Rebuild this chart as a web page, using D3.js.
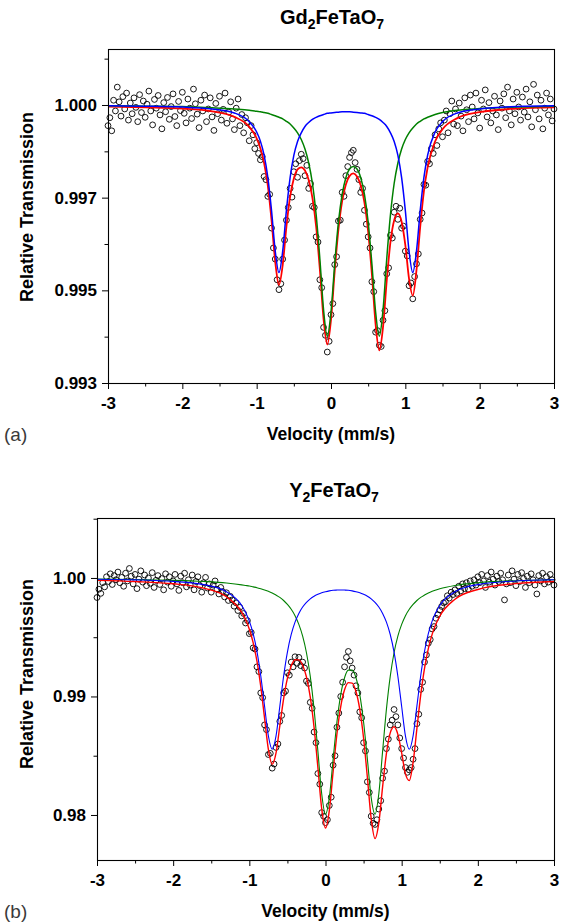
<!DOCTYPE html>
<html>
<head>
<meta charset="utf-8">
<script src="https://cdn.jsdelivr.net/npm/d3@7"></script>
<style>
  body { margin: 0; background: #fff; }
  svg { display: block; }
</style>
</head>
<body>
<svg id="chart" width="567" height="924"></svg>
<script>
// Mossbauer spectra of Gd2FeTaO7 (a) and Y2FeTaO7 (b)

const FONT = '"Liberation Sans", Arial, Helvetica, sans-serif';

// velocity of every channel (mm/s), shared by both spectra
const velocity = [
  -3, -2.975, -2.95, -2.925, -2.9, -2.875, -2.85, -2.825, -2.8, -2.775,
  -2.75, -2.725, -2.7, -2.675, -2.65, -2.625, -2.6, -2.575, -2.55, -2.525,
  -2.5, -2.475, -2.45, -2.425, -2.4, -2.375, -2.35, -2.325, -2.3, -2.275,
  -2.25, -2.225, -2.2, -2.175, -2.15, -2.125, -2.1, -2.075, -2.05, -2.025,
  -2, -1.975, -1.95, -1.925, -1.9, -1.875, -1.85, -1.825, -1.8, -1.775,
  -1.75, -1.725, -1.7, -1.675, -1.65, -1.625, -1.6, -1.575, -1.55, -1.525,
  -1.5, -1.475, -1.45, -1.425, -1.4, -1.375, -1.35, -1.325, -1.3, -1.275,
  -1.25, -1.225, -1.2, -1.175, -1.15, -1.125, -1.1, -1.075, -1.05, -1.025,
  -1, -0.975, -0.95, -0.925, -0.9, -0.875, -0.85, -0.825, -0.8, -0.775,
  -0.75, -0.725, -0.7, -0.675, -0.65, -0.625, -0.6, -0.575, -0.55, -0.525,
  -0.5, -0.475, -0.45, -0.425, -0.4, -0.375, -0.35, -0.325, -0.3, -0.275,
  -0.25, -0.225, -0.2, -0.175, -0.15, -0.125, -0.1, -0.075, -0.05, -0.025,
  0, 0.025, 0.05, 0.075, 0.1, 0.125, 0.15, 0.175, 0.2, 0.225,
  0.25, 0.275, 0.3, 0.325, 0.35, 0.375, 0.4, 0.425, 0.45, 0.475,
  0.5, 0.525, 0.55, 0.575, 0.6, 0.625, 0.65, 0.675, 0.7, 0.725,
  0.75, 0.775, 0.8, 0.825, 0.85, 0.875, 0.9, 0.925, 0.95, 0.975,
  1, 1.025, 1.05, 1.075, 1.1, 1.125, 1.15, 1.175, 1.2, 1.225,
  1.25, 1.275, 1.3, 1.325, 1.35, 1.375, 1.4, 1.425, 1.45, 1.475,
  1.5, 1.525, 1.55, 1.575, 1.6, 1.625, 1.65, 1.675, 1.7, 1.725,
  1.75, 1.775, 1.8, 1.825, 1.85, 1.875, 1.9, 1.925, 1.95, 1.975,
  2, 2.025, 2.05, 2.075, 2.1, 2.125, 2.15, 2.175, 2.2, 2.225,
  2.25, 2.275, 2.3, 2.325, 2.35, 2.375, 2.4, 2.425, 2.45, 2.475,
  2.5, 2.525, 2.55, 2.575, 2.6, 2.625, 2.65, 2.675, 2.7, 2.725,
  2.75, 2.775, 2.8, 2.825, 2.85, 2.875, 2.9, 2.925, 2.95, 2.975,
  3
];

// measured relative transmission, Gd2FeTaO7
const gdCounts = [
  0.99948, 0.99968, 0.99935, 1.00012, 0.99985, 1.00045, 1.00008, 0.99972, 1.00021, 0.99990,
  1.00030, 0.99962, 1.00005, 0.99978, 1.00018, 0.99994, 0.99958, 1.00026, 0.99981, 1.00010,
  0.99969, 1.00002, 1.00035, 0.99985, 0.99950, 1.00014, 0.99992, 1.00024, 0.99975, 0.99940,
  1.00006, 0.99983, 1.00019, 0.99964, 0.99996, 1.00028, 0.99971, 0.99948, 1.00009, 0.99986,
  1.00032, 0.99979, 0.99955, 1.00015, 0.99992, 0.99966, 1.00040, 1.00003, 0.99977, 0.99943,
  1.00012, 0.99985, 1.00025, 0.99958, 0.99990, 1.00018, 0.99970, 0.99936, 1.00004, 0.99978,
  1.00022, 0.99962, 0.99989, 1.00030, 0.99954, 0.99982, 1.00008, 0.99965, 0.99938, 0.99992,
  1.00015, 0.99948, 0.99976, 0.99930, 0.99968, 0.99955, 0.99910, 0.99948, 0.99925, 0.99890,
  0.99905, 0.99878, 0.99862, 0.99870, 0.99820, 0.99812, 0.99770, 0.99775, 0.99690, 0.99640,
  0.99612, 0.99560, 0.99535, 0.99550, 0.99612, 0.99660, 0.99710, 0.99742, 0.99790, 0.99768,
  0.99832, 0.99852, 0.99818, 0.99860, 0.99876, 0.99865, 0.99822, 0.99848, 0.99790, 0.99802,
  0.99745, 0.99742, 0.99668, 0.99655, 0.99560, 0.99540, 0.99440, 0.99420, 0.99378, 0.99405,
  0.99472, 0.99500, 0.99598, 0.99618, 0.99708, 0.99710, 0.99780, 0.99770, 0.99822, 0.99845,
  0.99868, 0.99880, 0.99886, 0.99855, 0.99838, 0.99812, 0.99780, 0.99790, 0.99735, 0.99700,
  0.99668, 0.99640, 0.99555, 0.99530, 0.99428, 0.99432, 0.99395, 0.99392, 0.99458, 0.99482,
  0.99575, 0.99590, 0.99672, 0.99665, 0.99730, 0.99745, 0.99712, 0.99740, 0.99690, 0.99695,
  0.99632, 0.99620, 0.99545, 0.99552, 0.99512, 0.99568, 0.99600, 0.99625, 0.99712, 0.99728,
  0.99800, 0.99798, 0.99858, 0.99852, 0.99890, 0.99878, 0.99925, 0.99898, 0.99940, 0.99955,
  0.99920, 0.99962, 0.99985, 0.99930, 0.99978, 1.00010, 0.99952, 0.99990, 0.99948, 1.00005,
  0.99972, 0.99935, 1.00018, 0.99988, 0.99958, 1.00025, 0.99995, 0.99965, 1.00030, 0.99980,
  0.99942, 1.00012, 0.99990, 1.00038, 0.99970, 1.00006, 0.99955, 0.99985, 1.00022, 0.99975,
  0.99938, 1.00010, 0.99992, 1.00028, 0.99968, 1.00045, 0.99985, 0.99950, 1.00015, 0.99978,
  1.00032, 0.99995, 0.99962, 1.00020, 0.99982, 1.00040, 0.99970, 1.00008, 0.99945, 1.00052,
  0.99988, 1.00025, 0.99965, 1.00012, 0.99940, 0.99992, 1.00030, 0.99975, 1.00015, 0.99960,
  0.99990
];

// measured relative transmission, Y2FeTaO7
const yCounts = [
  0.99835, 0.99905, 0.99870, 0.99960, 0.99925, 1.00010, 0.99970, 1.00035, 0.99945, 1.00020,
  0.99985, 1.00050, 0.99960, 1.00005, 0.99930, 1.00040, 0.99975, 1.00080, 1.00015, 0.99950,
  1.00030, 0.99910, 0.99990, 1.00060, 0.99965, 1.00025, 0.99935, 1.00000, 0.99955, 1.00045,
  0.99920, 0.99980, 1.00020, 0.99945, 0.99995, 0.99900, 1.00035, 0.99965, 1.00010, 0.99930,
  0.99975, 1.00030, 0.99950, 0.99895, 1.00015, 0.99960, 1.00040, 0.99925, 0.99985, 0.99940,
  1.00025, 0.99900, 0.99970, 1.00010, 0.99935, 0.99880, 0.99960, 1.00005, 0.99915, 0.99950,
  0.99880, 0.99940, 0.99975, 0.99905, 0.99865, 0.99920, 0.99885, 0.99840, 0.99875, 0.99810,
  0.99845, 0.99815, 0.99762, 0.99790, 0.99725, 0.99752, 0.99680, 0.99700, 0.99620, 0.99640,
  0.99530, 0.99540, 0.99410, 0.99400, 0.99250, 0.99210, 0.99030, 0.98990, 0.98760, 0.98720,
  0.98510, 0.98520, 0.98395, 0.98430, 0.98570, 0.98600, 0.98790, 0.98840, 0.99030, 0.99045,
  0.99200, 0.99180, 0.99290, 0.99250, 0.99335, 0.99280, 0.99330, 0.99260, 0.99290, 0.99240,
  0.99130, 0.99110, 0.98950, 0.98900, 0.98700, 0.98610, 0.98350, 0.98260, 0.98020, 0.97990,
  0.97935, 0.97960, 0.98080, 0.98150, 0.98420, 0.98500, 0.98740, 0.98860, 0.99000, 0.99120,
  0.99250, 0.99330, 0.99380, 0.99300, 0.99240, 0.99180, 0.99090, 0.99030, 0.98870, 0.98820,
  0.98610, 0.98540, 0.98280, 0.98190, 0.97990, 0.97930, 0.97920, 0.97960, 0.98050, 0.98120,
  0.98310, 0.98370, 0.98560, 0.98640, 0.98760, 0.98800, 0.98890, 0.98830, 0.98760, 0.98650,
  0.98560, 0.98480, 0.98400, 0.98360, 0.98380, 0.98400, 0.98470, 0.98560, 0.98770, 0.98850,
  0.99060, 0.99120, 0.99290, 0.99350, 0.99450, 0.99480, 0.99570, 0.99590, 0.99660, 0.99690,
  0.99730, 0.99760, 0.99790, 0.99800, 0.99850, 0.99830, 0.99880, 0.99860, 0.99900, 0.99870,
  0.99930, 0.99890, 0.99950, 0.99910, 0.99960, 0.99905, 0.99975, 0.99930, 0.99985, 0.99940,
  1.00010, 0.99960, 1.00030, 0.99975, 0.99920, 1.00020, 0.99965, 1.00050, 0.99990, 0.99940,
  1.00015, 0.99970, 1.00040, 0.99985, 0.99815, 0.99950, 1.00025, 0.99960, 1.00060, 0.99990,
  0.99935, 1.00030, 0.99970, 1.00045, 0.99995, 0.99920, 1.00015, 0.99960, 1.00035, 0.99985,
  0.99940, 0.99865, 1.00020, 0.99975, 1.00040, 0.99950, 1.00010, 0.99965, 1.00030, 0.99985,
  0.99940
];

// fitted curves, Gd2FeTaO7: total (red), doublet 1 (green), doublet 2 (blue)
const gdFitVel = [-3, -2.5, -2, -1.6, -1.3, -1.1, -1, -0.95, -0.9, -0.85, -0.8, -0.75, -0.7, -0.65, -0.6,
  -0.55, -0.5, -0.45, -0.4, -0.35, -0.3, -0.25, -0.2, -0.15, -0.1, -0.05, 0, 0.05, 0.1, 0.15, 0.2, 0.25,
  0.3, 0.35, 0.4, 0.45, 0.5, 0.55, 0.6, 0.65, 0.7, 0.75, 0.8, 0.85, 0.9, 0.95, 1, 1.05, 1.1, 1.15, 1.2,
  1.25, 1.3, 1.4, 1.5, 1.7, 2, 2.5, 3];
const gdFitTotal = [0.99996, 0.99994, 0.99991, 0.99984, 0.9997, 0.99945, 0.99916, 0.99891, 0.99854, 0.99797,
  0.9971, 0.99605, 0.99547, 0.99597, 0.99693, 0.99769, 0.99815, 0.99838, 0.99843, 0.99835, 0.99811,
  0.99766, 0.99694, 0.99586, 0.99461, 0.99397, 0.99459, 0.99582, 0.99687, 0.99758, 0.998, 0.99821,
  0.99828, 0.9982, 0.99797, 0.99754, 0.99681, 0.99574, 0.99448, 0.99382, 0.99441, 0.99558, 0.99655,
  0.9971, 0.99727, 0.99706, 0.99647, 0.99562, 0.9952, 0.99584, 0.99693, 0.99783, 0.99843, 0.99908,
  0.99939, 0.99967, 0.99982, 0.99991, 0.99994];
const gdFitSite1 = [0.99998, 0.99997, 0.99996, 0.99993, 0.9999, 0.99987, 0.99984, 0.99983, 0.99981, 0.99979,
  0.99976, 0.99973, 0.99969, 0.99965, 0.99959, 0.99952, 0.99942, 0.9993, 0.99913, 0.99889, 0.99854,
  0.99803, 0.99724, 0.99613, 0.99484, 0.99418, 0.99479, 0.996, 0.99705, 0.99775, 0.99817, 0.99839,
  0.99845, 0.99839, 0.99817, 0.99775, 0.99705, 0.996, 0.99479, 0.99418, 0.99484, 0.99613, 0.99724,
  0.99803, 0.99854, 0.99889, 0.99913, 0.9993, 0.99942, 0.99952, 0.99959, 0.99965, 0.99969, 0.99976,
  0.99981, 0.99987, 0.99991, 0.99995, 0.99997];
const gdFitSite2 = [0.99998, 0.99997, 0.99995, 0.9999, 0.9998, 0.99958, 0.99932, 0.99909, 0.99874, 0.99818,
  0.99734, 0.99632, 0.99578, 0.99632, 0.99734, 0.99817, 0.99873, 0.99908, 0.9993, 0.99946, 0.99956,
  0.99964, 0.99969, 0.99973, 0.99976, 0.99979, 0.9998, 0.99981, 0.99982, 0.99983, 0.99983, 0.99983,
  0.99982, 0.99981, 0.9998, 0.99979, 0.99976, 0.99973, 0.99969, 0.99964, 0.99956, 0.99946, 0.9993,
  0.99908, 0.99873, 0.99817, 0.99734, 0.99632, 0.99578, 0.99632, 0.99734, 0.99818, 0.99874, 0.99932,
  0.99958, 0.9998, 0.9999, 0.99996, 0.99998];

// fitted curves, Y2FeTaO7
const yFitVel = [-3, -2.5, -2, -1.6, -1.3, -1.1, -1.05, -1, -0.95, -0.9, -0.85, -0.8, -0.75, -0.7, -0.65,
  -0.6, -0.55, -0.5, -0.45, -0.4, -0.35, -0.3, -0.25, -0.2, -0.15, -0.1, -0.05, 0, 0.05, 0.1, 0.15, 0.2,
  0.25, 0.3, 0.35, 0.4, 0.45, 0.5, 0.55, 0.6, 0.65, 0.7, 0.75, 0.8, 0.85, 0.9, 0.95, 1, 1.05, 1.1, 1.15,
  1.2, 1.25, 1.3, 1.35, 1.4, 1.45, 1.5, 1.7, 2, 2.5, 3];
const yFitTotal = [0.9998, 0.9997, 0.99951, 0.99914, 0.99841, 0.9971, 0.99649, 0.99568, 0.99455, 0.99298,
  0.99084, 0.98817, 0.98554, 0.98428, 0.98521, 0.98751, 0.9898, 0.99152, 0.99258, 0.9931, 0.99309,
  0.99264, 0.99164, 0.98994, 0.98739, 0.98401, 0.98054, 0.9789, 0.98037, 0.98366, 0.98683, 0.98915,
  0.99056, 0.99117, 0.99113, 0.99042, 0.98891, 0.98647, 0.98316, 0.97969, 0.97801, 0.97934, 0.98239,
  0.9852, 0.98693, 0.98744, 0.9868, 0.98523, 0.98347, 0.9829, 0.98444, 0.98728, 0.99011, 0.99237,
  0.99404, 0.99524, 0.99611, 0.99677, 0.99821, 0.99903, 0.99952, 0.9997];
const yFitSite1 = [0.99991, 0.99987, 0.9998, 0.9997, 0.99957, 0.99942, 0.99937, 0.99932, 0.99925, 0.99918,
  0.99909, 0.99899, 0.99887, 0.99874, 0.99856, 0.99836, 0.9981, 0.99777, 0.99736, 0.99682, 0.99608,
  0.99509, 0.99369, 0.9917, 0.98893, 0.98539, 0.98179, 0.98006, 0.98146, 0.9847, 0.98785, 0.99016,
  0.99158, 0.99222, 0.99222, 0.99158, 0.99016, 0.98785, 0.9847, 0.98146, 0.98006, 0.98179, 0.98539,
  0.98893, 0.9917, 0.99369, 0.99509, 0.99608, 0.99682, 0.99736, 0.99777, 0.9981, 0.99836, 0.99856,
  0.99874, 0.99887, 0.99899, 0.99909, 0.99937, 0.9996, 0.99977, 0.99985];
const yFitSite2 = [0.99989, 0.99984, 0.99971, 0.99944, 0.99884, 0.99768, 0.99711, 0.99636, 0.9953, 0.99381,
  0.99175, 0.98918, 0.98667, 0.98554, 0.98665, 0.98915, 0.99171, 0.99375, 0.99523, 0.99627, 0.99701,
  0.99755, 0.99794, 0.99824, 0.99846, 0.99862, 0.99875, 0.99884, 0.99891, 0.99896, 0.99898, 0.99899,
  0.99898, 0.99896, 0.99891, 0.99884, 0.99875, 0.99862, 0.99846, 0.99824, 0.99794, 0.99755, 0.99701,
  0.99627, 0.99523, 0.99375, 0.99171, 0.98915, 0.98665, 0.98554, 0.98667, 0.98918, 0.99175, 0.99381,
  0.9953, 0.99636, 0.99711, 0.99768, 0.99884, 0.99944, 0.99975, 0.99985];

// axis ticks
const velTicks = [-3, -2, -1, 0, 1, 2, 3];
const velMinorTicks = [-2.5, -1.5, -0.5, 0.5, 1.5, 2.5];
const gdTickValues = [0.993, 0.995333, 0.997667, 1.0];
const gdTickLabels = ["0.993", "0.995", "0.997", "1.000"];
const gdMinorTicks = [0.994167, 0.9965, 0.998833, 1.001167];
const yTickValues = [0.98, 0.99, 1.0];
const yTickLabels = ["0.98", "0.99", "1.00"];
const yMinorTicks = [0.985, 0.995, 1.005];

const svg = d3.select("#chart");

function drawPanel(p) {
  const x = d3.scaleLinear().domain([-3, 3]).range([p.left, p.right]);
  const y = d3.scaleLinear().domain(p.yDomain).range([p.bottom, p.top]);
  const g = svg.append("g");

  // open circles for the measured spectrum
  const points = velocity.map((v, i) => [v, p.counts[i]]);
  g.append("g")
    .selectAll("circle")
    .data(points)
    .enter().append("circle")
    .attr("cx", d => x(d[0]))
    .attr("cy", d => y(d[1]))
    .attr("r", 2.9)
    .attr("fill", "none")
    .attr("stroke", "#000")
    .attr("stroke-width", 0.9);

  // fitted lines
  const line = d3.line()
    .x(d => x(d[0]))
    .y(d => y(d[1]))
    .curve(d3.curveMonotoneX);

  const fits = [
    { values: p.fitTotal, color: "#ff0000", width: p.lineWidth + 0.3 },
    { values: p.fitSite1, color: "#008000", width: p.lineWidth },
    { values: p.fitSite2, color: "#0000ff", width: p.lineWidth }
  ];
  fits.forEach(f => {
    g.append("path")
      .datum(p.fitVel.map((v, i) => [v, f.values[i]]))
      .attr("d", line)
      .attr("fill", "none")
      .attr("stroke", f.color)
      .attr("stroke-width", f.width);
  });

  // bottom axis
  const xAxis = g.append("g")
    .attr("transform", `translate(0,${p.bottom})`)
    .call(d3.axisBottom(x).tickValues(velTicks).tickSize(6).tickPadding(8).tickFormat(d => String(d)));
  g.append("g")
    .attr("transform", `translate(0,${p.bottom})`)
    .call(d3.axisBottom(x).tickValues(velMinorTicks).tickSize(3.5).tickFormat(""));

  // left axis
  const yAxis = g.append("g")
    .attr("transform", `translate(${p.left},0)`)
    .call(d3.axisLeft(y).tickValues(p.yTicks).tickSize(6).tickPadding(5).tickFormat((d, i) => p.yLabels[i]));
  g.append("g")
    .attr("transform", `translate(${p.left},0)`)
    .call(d3.axisLeft(y).tickValues(p.yMinor).tickSize(3.5).tickFormat(""));

  g.selectAll(".domain").remove();
  g.selectAll(".tick line").attr("stroke", "#000").attr("stroke-width", 1);
  [xAxis, yAxis].forEach(a => a.selectAll("text")
    .attr("fill", "#000")
    .style("font-family", FONT)
    .style("font-size", "17px")
    .style("font-weight", "bold"));

  // frame
  g.append("rect")
    .attr("x", p.left + 0.5)
    .attr("y", p.top + 0.5)
    .attr("width", p.right - p.left)
    .attr("height", p.bottom - p.top)
    .attr("fill", "none")
    .attr("stroke", "#000")
    .attr("stroke-width", 1.1);

  // title with subscripts
  const title = g.append("text")
    .attr("x", p.titleX)
    .attr("y", p.titleY)
    .attr("text-anchor", "middle")
    .style("font-family", FONT)
    .style("font-size", "20px")
    .style("font-weight", "bold");
  p.title.forEach(part => {
    title.append("tspan")
      .attr("dy", part.sub ? 5 : (part.after ? -5 : 0))
      .style("font-size", part.sub ? "14px" : "20px")
      .text(part.t);
  });

  // axis titles
  g.append("text")
    .attr("x", (p.left + p.right) / 2)
    .attr("y", p.bottom + 57)
    .attr("text-anchor", "middle")
    .style("font-family", FONT)
    .style("font-size", "17.5px")
    .style("font-weight", "bold")
    .text("Velocity (mm/s)");

  g.append("text")
    .attr("transform", `translate(33,${p.yTitleY}) rotate(-90)`)
    .attr("text-anchor", "middle")
    .style("font-family", FONT)
    .style("font-size", "18px")
    .style("font-weight", "bold")
    .text("Relative Transmission");

  // panel letter
  g.append("text")
    .attr("x", 4)
    .attr("y", p.bottom + 58)
    .attr("fill", "#3a3a3a")
    .style("font-family", FONT)
    .style("font-size", "19px")
    .text(p.letter);
}

drawPanel({
  left: 108, right: 554, top: 49, bottom: 383,
  yDomain: [0.993, 1.00141],
  counts: gdCounts,
  fitVel: gdFitVel, fitTotal: gdFitTotal, fitSite1: gdFitSite1, fitSite2: gdFitSite2,
  lineWidth: 1.5,
  yTicks: gdTickValues, yLabels: gdTickLabels, yMinor: gdMinorTicks,
  title: [{ t: "Gd" }, { t: "2", sub: true }, { t: "FeTaO", after: true }, { t: "7", sub: true }],
  titleX: 332, titleY: 24, yTitleY: 207,
  letter: "(a)"
});

drawPanel({
  left: 97, right: 554, top: 518, bottom: 860,
  yDomain: [0.9762, 1.00506],
  counts: yCounts,
  fitVel: yFitVel, fitTotal: yFitTotal, fitSite1: yFitSite1, fitSite2: yFitSite2,
  lineWidth: 1.1,
  yTicks: yTickValues, yLabels: yTickLabels, yMinor: yMinorTicks,
  title: [{ t: "Y" }, { t: "2", sub: true }, { t: "FeTaO", after: true }, { t: "7", sub: true }],
  titleX: 334, titleY: 497, yTitleY: 674,
  letter: "(b)"
});
</script>
</body>
</html>
